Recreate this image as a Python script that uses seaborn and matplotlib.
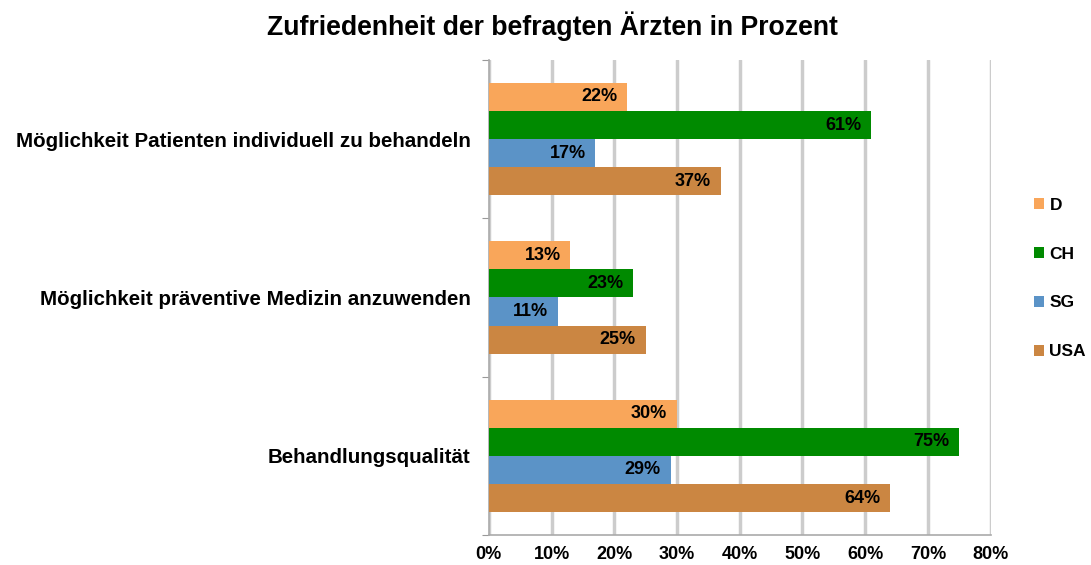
import pandas as pd
import numpy as np
import matplotlib.pyplot as plt
import seaborn as sns

categories = ["Möglichkeit Patienten individuell zu behandeln",
              "Möglichkeit präventive Medizin anzuwenden",
              "Behandlungsqualität"]
countries = ["D", "CH", "SG", "USA"]
d_vals = [22, 13, 30]
ch_vals = [61, 23, 75]
sg_vals = [17, 11, 29]
usa_vals = [37, 25, 64]
colors = ["#F9A65A", "#008A00", "#5B93C7", "#CB8642"]

df = pd.DataFrame({
    "Kategorie": categories * 4,
    "Land": np.repeat(countries, len(categories)),
    "Wert": d_vals + ch_vals + sg_vals + usa_vals,
})

sns.set_style("white")
plt.rcParams["font.family"] = ["Liberation Sans", "DejaVu Sans"]
plt.rcParams["text.color"] = "black"
plt.rcParams["xtick.color"] = "black"
plt.rcParams["ytick.color"] = "black"

fig = plt.figure(figsize=(10.91, 5.65), dpi=100)
ax = fig.add_axes([0.448, 0.053, 0.46, 0.841])

sns.barplot(data=df, y="Kategorie", x="Wert", hue="Land", order=categories,
            hue_order=countries, palette=colors, orient="h", width=0.71,
            saturation=1, linewidth=0, ax=ax, zorder=3)

for cont in ax.containers:
    labs = ax.bar_label(cont, labels=[f"{int(v)}%" for v in cont.datavalues],
                        padding=-7, label_type="edge", fontsize=13, fontweight="bold",
                        color="black", family=["Liberation Sans Narrow", "Liberation Sans"])
    for t in labs:
        t.set_horizontalalignment("right")
        t.set_verticalalignment("center")

ax.set_xlim(0, 80)
ax.set_xticks(range(0, 81, 10))
ax.set_xticklabels([f"{v}%" for v in range(0, 81, 10)], fontsize=13, fontweight="bold")
ax.set_ylim(2.5, -0.5)
ax.set_yticks([-0.5, 0.5, 1.5, 2.5], minor=False)
ax.set_yticklabels([])
ax.set_yticks([0, 1, 2], minor=True)
ax.set_yticklabels(categories, minor=True, fontsize=14.8, fontweight="bold")
ax.tick_params(axis="y", which="minor", length=0, pad=13)
ax.tick_params(axis="y", which="major", length=5, color="#999999", direction="out", left=True)
ax.tick_params(axis="x", length=0, pad=8)
ax.grid(axis="x", color="#cccccc", linewidth=2.5, zorder=0)
ax.set_axisbelow(True)
ax.set_xlabel("")
ax.set_ylabel("")
for s in ["top", "right"]:
    ax.spines[s].set_visible(False)
for s in ["left", "bottom"]:
    ax.spines[s].set_color("#aaaaaa")
    ax.spines[s].set_linewidth(1.2)

leg = ax.legend(loc="center left", bbox_to_anchor=(1.055, 0.54), frameon=False,
                handlelength=0.6, handleheight=0.6, labelspacing=1.95,
                handletextpad=0.3, prop={"size": 12.5, "weight": "bold"})

fig.suptitle("Zufriedenheit der befragten Ärzten in Prozent", x=0.506, y=0.98,
             fontsize=19.2, fontweight="bold")

fig.savefig("out.png", dpi=100)
